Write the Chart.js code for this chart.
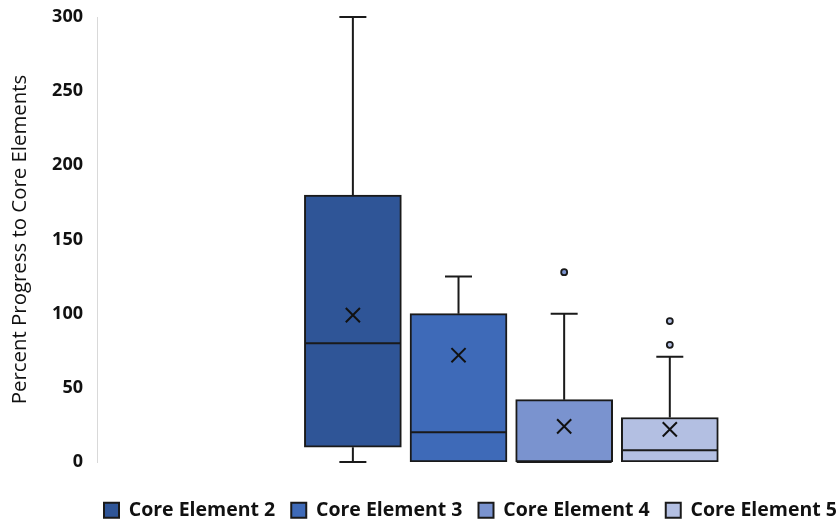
<!DOCTYPE html>
<html>
<head>
<meta charset="utf-8">
<title>Percent Progress to Core Elements</title>
<script src="https://cdn.jsdelivr.net/npm/chart.js"></script>
<style>
  html, body { margin: 0; padding: 0; background: #fff; overflow: hidden; }
  #wrap { width: 837px; height: 523px; }
</style>
</head>
<body>
<div id="wrap"><canvas id="boxChart"></canvas></div>
<script>
// values (percent)
const categories = ["Core Element 2", "Core Element 3", "Core Element 4", "Core Element 5"];
const whiskerLow = [0, 0, 0, 0];
const quartile1 = [10, 0, 0, 0];
const medians = [80, 20, 0, 8];
const quartile3 = [180, 100, 42, 30];
const whiskerHigh = [300, 125, 100, 71];
const means = [99, 72, 24, 22];
const outliers = [[], [], [128], [79, 95]];
const yTicks = [0, 50, 100, 150, 200, 250, 300];

const fillColors = ["#2f5597", "#3e6ab8", "#7a93cf", "#b3bfe2"];
const edgeColor = "#1a1a1a";
const textColor = "#111111";

// boxes = floating bars from Q1 to Q3
const boxSets = categories.map((name, i) => ({
  type: "bar",
  label: name,
  data: [{ x: i, y: [quartile1[i], quartile3[i]] }],
  backgroundColor: fillColors[i],
  borderColor: edgeColor,
  borderWidth: 2,
  borderSkipped: false,
  grouped: false,
  barThickness: 97,
  order: 2,
}));

const outlierSets = categories.map((name, i) => ({
  type: "scatter",
  label: name + " outliers",
  data: outliers[i].map((v) => ({ x: i, y: v })),
  pointRadius: 3,
  pointBackgroundColor: fillColors[i],
  pointBorderColor: edgeColor,
  pointBorderWidth: 1.8,
  order: 0,
}));

const meanSet = {
  type: "scatter",
  label: "Mean",
  data: means.map((v, i) => ({ x: i, y: v })),
  pointStyle: "crossRot",
  pointRadius: 10,
  pointBorderColor: "#111111",
  pointBorderWidth: 2,
  order: 0,
};

// whiskers, caps and median lines
const whiskerPlugin = {
  id: "whiskers",
  afterDatasetsDraw(chart) {
    const { ctx, scales } = chart;
    const y = scales.y;
    const capHalf = 13.5;
    ctx.save();
    ctx.strokeStyle = edgeColor;
    ctx.lineWidth = 2;
    categories.forEach((name, i) => {
      const box = chart.getDatasetMeta(i).data[0];
      const cx = box.x;
      const half = box.width / 2;
      const yHigh = y.getPixelForValue(whiskerHigh[i]);
      const yQ3 = y.getPixelForValue(quartile3[i]);
      const yQ1 = y.getPixelForValue(quartile1[i]);
      const yLow = y.getPixelForValue(whiskerLow[i]);
      const yMed = y.getPixelForValue(medians[i]);
      ctx.beginPath();
      if (whiskerHigh[i] > quartile3[i]) {
        ctx.moveTo(cx, yQ3);
        ctx.lineTo(cx, yHigh);
        ctx.moveTo(cx - capHalf, yHigh);
        ctx.lineTo(cx + capHalf, yHigh);
      }
      if (whiskerLow[i] < quartile1[i]) {
        ctx.moveTo(cx, yQ1);
        ctx.lineTo(cx, yLow);
        ctx.moveTo(cx - capHalf, yLow);
        ctx.lineTo(cx + capHalf, yLow);
      }
      ctx.moveTo(cx - half + 1, yMed);
      ctx.lineTo(cx + half - 1, yMed);
      ctx.stroke();
    });
    ctx.restore();
  },
};

new Chart(document.getElementById("boxChart"), {
  type: "bar",
  data: { datasets: [...boxSets, ...outlierSets, meanSet] },
  plugins: [whiskerPlugin],
  options: {
    responsive: true,
    maintainAspectRatio: false,
    animation: false,
    events: [],
    layout: { padding: { left: 4, top: 17, right: -16, bottom: -7 } },
    plugins: {
      tooltip: { enabled: false },
      legend: {
        position: "bottom",
        align: "end",
        labels: {
          boxWidth: 15,
          boxHeight: 15,
          padding: 16,
          color: textColor,
          font: { family: "Open Sans", size: 19.5, weight: "bold" },
          filter: (item) => item.datasetIndex < categories.length,
        },
      },
    },
    scales: {
      x: {
        type: "linear",
        offset: false,
        min: -2.422,
        max: 4.469,
        afterBuildTicks: (axis) => {
          axis.ticks = categories.map((c, i) => ({ value: i }));
        },
        grid: { display: false, drawTicks: true, tickLength: 22.5 },
        border: { display: false },
        ticks: { display: false },
      },
      y: {
        min: yTicks[0],
        max: yTicks[yTicks.length - 1],
        afterBuildTicks: (axis) => {
          axis.ticks = yTicks.map((v) => ({ value: v }));
        },
        afterFit: (axis) => {
          axis.width = 93;
        },
        grid: { display: false },
        border: { display: true, color: "#d9d9d9", width: 1 },
        ticks: {
          color: textColor,
          padding: 6,
          font: { family: "Open Sans", size: 18, weight: "bold" },
        },
        title: {
          display: true,
          text: "Percent Progress to Core Elements",
          color: textColor,
          padding: { top: 3.5, bottom: 0 },
          font: { family: "Open Sans", size: 20.4 },
        },
      },
    },
  },
});
</script>
</body>
</html>
